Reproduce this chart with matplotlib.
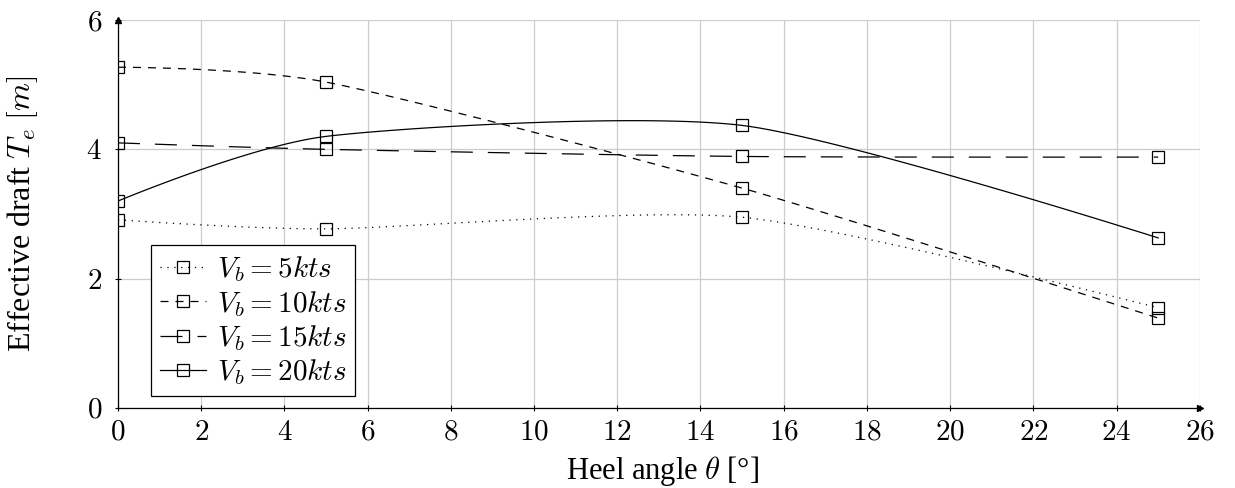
import matplotlib.pyplot as plt
import numpy as np

plt.rcParams['mathtext.fontset'] = 'cm'
plt.rcParams['font.family'] = ['Liberation Serif', 'DejaVu Serif']

heel = [0, 5, 15, 25]
draft_5 = [2.91, 2.77, 2.95, 1.55]
draft_10 = [5.27, 5.04, 3.40, 1.39]
draft_15 = [4.10, 4.00, 3.89, 3.88]
draft_20 = [3.20, 4.20, 4.37, 2.63]
labels = ['$V_b = 5kts$', '$V_b = 10kts$', '$V_b = 15kts$', '$V_b = 20kts$']
xticks = list(range(0, 27, 2))
yticks = [0, 2, 4, 6]


def smooth(x, y, tension=0.36, n=40):
    # tikz-like "smooth" curve: cubic bezier through the points
    p = np.column_stack([x, y]).astype(float)
    f = tension / 3.0
    out = []
    for i in range(len(p) - 1):
        a, b = p[i], p[i + 1]
        prev = p[i - 1] if i > 0 else a
        nxt = p[i + 2] if i + 2 < len(p) else b
        c1 = a + f * (b - prev) if i > 0 else a
        c2 = b - f * (nxt - a) if i + 2 < len(p) else b
        t = np.linspace(0, 1, n)[:, None]
        seg = ((1 - t) ** 3 * a + 3 * (1 - t) ** 2 * t * c1
               + 3 * (1 - t) * t ** 2 * c2 + t ** 3 * b)
        out.append(seg if i == 0 else seg[1:])
    s = np.vstack(out)
    return s[:, 0], s[:, 1]


def main():
    fig = plt.figure(figsize=(12.35, 4.88), dpi=100)
    ax = fig.add_axes([0.0955, 0.164, 0.876, 0.795])

    styles = [(0, (1, 4.5)), (0, (6.4, 5.6)), (0, (17.6, 12)), '-']
    series = [draft_5, draft_10, draft_15, draft_20]
    for ys, ls, lab in zip(series, styles, labels):
        sx, sy = smooth(heel, ys)
        ax.plot(sx, sy, color='black', linestyle=ls, linewidth=0.9)
        ax.plot(heel, ys, linestyle='none', marker='s', markersize=8,
                markerfacecolor='none', markeredgecolor='black',
                markeredgewidth=0.9)
        ax.plot([], [], color='black', linestyle=ls, linewidth=0.9,
                marker='s', markersize=8, markerfacecolor='none',
                markeredgewidth=0.9, label=lab)

    ax.set_xlim(0, 26)
    ax.set_ylim(0, 6)
    ax.set_xticks(xticks)
    ax.set_yticks(yticks)
    ax.set_xticklabels(['$%d$' % v for v in xticks])
    ax.set_yticklabels(['$%d$' % v for v in yticks])
    ax.tick_params(labelsize=21, direction='inout', length=5, width=0.8)
    ax.tick_params(axis='x', pad=6)
    ax.tick_params(axis='y', pad=9)
    ax.grid(True, color='#cccccc', linewidth=0.9)
    ax.set_axisbelow(True)
    for s in ['top', 'right']:
        ax.spines[s].set_visible(False)
    for s in ['left', 'bottom']:
        ax.spines[s].set_linewidth(0.9)
    ax.plot(1, 0, '>k', transform=ax.transAxes, clip_on=False, markersize=5)
    ax.plot(0, 1, '^k', transform=ax.transAxes, clip_on=False, markersize=5)

    ax.set_xlabel(r'Heel angle $\theta$ [°]', fontsize=22)
    ax.set_ylabel(r'Effective draft $T_e$ $[m]$', fontsize=23)
    ax.xaxis.set_label_coords(0.503, -0.118)
    ax.yaxis.set_label_coords(-0.072, 0.5)

    leg = ax.legend(loc='lower left', bbox_to_anchor=(0.0305, 0.031),
                    borderaxespad=0, fontsize=21, fancybox=False,
                    framealpha=1, edgecolor='black', handlelength=1.6,
                    borderpad=0.3, labelspacing=0.15, handletextpad=0.35)
    leg.get_frame().set_linewidth(0.9)

    fig.savefig('out.png', dpi=100)


if __name__ == "__main__":
    main()
